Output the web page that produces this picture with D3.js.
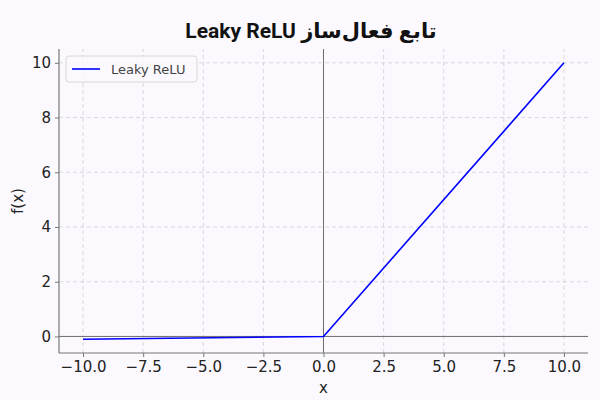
<!DOCTYPE html>
<html>
<head>
<meta charset="utf-8">
<script src="https://cdn.jsdelivr.net/npm/d3@7"></script>
<style>
  html, body { margin: 0; padding: 0; background: #fbf9fe; }
  svg { display: block; }
</style>
</head>
<body>
<div id="chart"></div>
<script>
// data
const xPoints = [-10, 0, 10];
const yPoints = [-0.1, 0, 10];
const xTicks = [-10, -7.5, -5, -2.5, 0, 2.5, 5, 7.5, 10];
const yTicks = [0, 2, 4, 6, 8, 10];
const seriesName = 'Leaky ReLU';
const titleText = 'تابع فعال‌ساز Leaky ReLU';

const width = 600, height = 400;
const m = { top: 49, right: 12, bottom: 47, left: 59 };

const svg = d3.select('#chart')
    .append('svg')
      .attr('width', width)
      .attr('height', height);

svg.append('rect')
    .attr('width', width).attr('height', height)
    .attr('fill', '#fbf9fe');

const x = d3.scaleLinear().domain([-11, 11]).range([m.left, width - m.right]);
const y = d3.scaleLinear().domain([-0.605, 10.505]).range([height - m.bottom, m.top]);

// grid
const grid = svg.append('g')
    .attr('stroke', '#cfcfd6')
    .attr('stroke-width', 0.8)
    .attr('stroke-dasharray', '4,3');

grid.selectAll('.gx')
    .data(xTicks)
    .enter()
    .append('line')
      .attr('x1', d => x(d)).attr('x2', d => x(d))
      .attr('y1', y.range()[0]).attr('y2', y.range()[1]);

grid.selectAll('.gy')
    .data(yTicks)
    .enter()
    .append('line')
      .attr('y1', d => y(d)).attr('y2', d => y(d))
      .attr('x1', x.range()[0]).attr('x2', x.range()[1]);

// zero lines
svg.append('line')
    .attr('x1', x(0)).attr('x2', x(0))
    .attr('y1', y.range()[0]).attr('y2', y.range()[1])
    .attr('stroke', '#6e6e6e').attr('stroke-width', 1);
svg.append('line')
    .attr('y1', y(0)).attr('y2', y(0))
    .attr('x1', x.range()[0]).attr('x2', x.range()[1])
    .attr('stroke', '#6e6e6e').attr('stroke-width', 1);

// axes
const fmtX = d => d3.format('.1f')(d).replace('-', '\u2212');
const xAxis = svg.append('g')
    .attr('transform', `translate(0, ${height - m.bottom})`)
    .call(d3.axisBottom(x).tickValues(xTicks).tickFormat(fmtX).tickSize(4).tickPadding(4));
const yAxis = svg.append('g')
    .attr('transform', `translate(${m.left}, 0)`)
    .call(d3.axisLeft(y).tickValues(yTicks).tickSize(4).tickPadding(4));

[xAxis, yAxis].forEach(a => {
    a.select('.domain').attr('stroke', '#777').attr('stroke-width', 1.2);
    a.selectAll('.tick line').attr('stroke', '#777');
    a.selectAll('text')
        .attr('fill', '#222')
        .style('font-family', 'DejaVu Sans, sans-serif')
        .style('font-size', '15px');
});
// fix domain path (no outer tick ends)
xAxis.select('.domain').attr('d', `M${x.range()[0]},0H${x.range()[1]}`);
yAxis.select('.domain').attr('d', `M0,${y.range()[0]}V${y.range()[1]}`);

// line
const line = d3.line()
    .x((d, i) => x(xPoints[i]))
    .y(d => y(d));

svg.append('path')
    .datum(yPoints)
    .attr('d', line)
    .attr('fill', 'none')
    .attr('stroke', '#0000ff')
    .attr('stroke-width', 1.6);

// labels
svg.append('text')
    .attr('x', (x.range()[0] + x.range()[1]) / 2)
    .attr('y', 393)
    .attr('text-anchor', 'middle')
    .style('font-family', 'DejaVu Sans, sans-serif')
    .style('font-size', '15px')
    .attr('fill', '#222')
    .text('x');

svg.append('text')
    .attr('transform', `translate(23, ${(y.range()[0] + y.range()[1]) / 2}) rotate(-90)`)
    .attr('text-anchor', 'middle')
    .style('font-family', 'DejaVu Sans, sans-serif')
    .style('font-size', '15px')
    .attr('fill', '#222')
    .text('f(x)');

svg.append('text')
    .attr('x', 311)
    .attr('y', 38)
    .attr('text-anchor', 'middle')
    .attr('direction', 'rtl')
    .style('font-family', 'Roboto, "Noto Sans", "DejaVu Sans", sans-serif')
    .style('font-weight', 'bold')
    .style('font-size', '21px')
    .attr('fill', '#111')
    .text(titleText);

// legend
const legend = svg.append('g')
    .attr('transform', `translate(${m.left + 7}, ${m.top + 7})`);
legend.append('rect')
    .attr('width', 131).attr('height', 26)
    .attr('rx', 3)
    .attr('fill', '#fbf9fe')
    .attr('fill-opacity', 0.8)
    .attr('stroke', '#d6d6d6');
legend.append('line')
    .attr('x1', 6).attr('x2', 34)
    .attr('y1', 13).attr('y2', 13)
    .attr('stroke', '#0000ff').attr('stroke-width', 1.6);
legend.append('text')
    .attr('x', 45).attr('y', 17.5)
    .style('font-family', 'DejaVu Sans, sans-serif')
    .style('font-size', '13px')
    .attr('fill', '#444')
    .text(seriesName);
</script>
</body>
</html>
